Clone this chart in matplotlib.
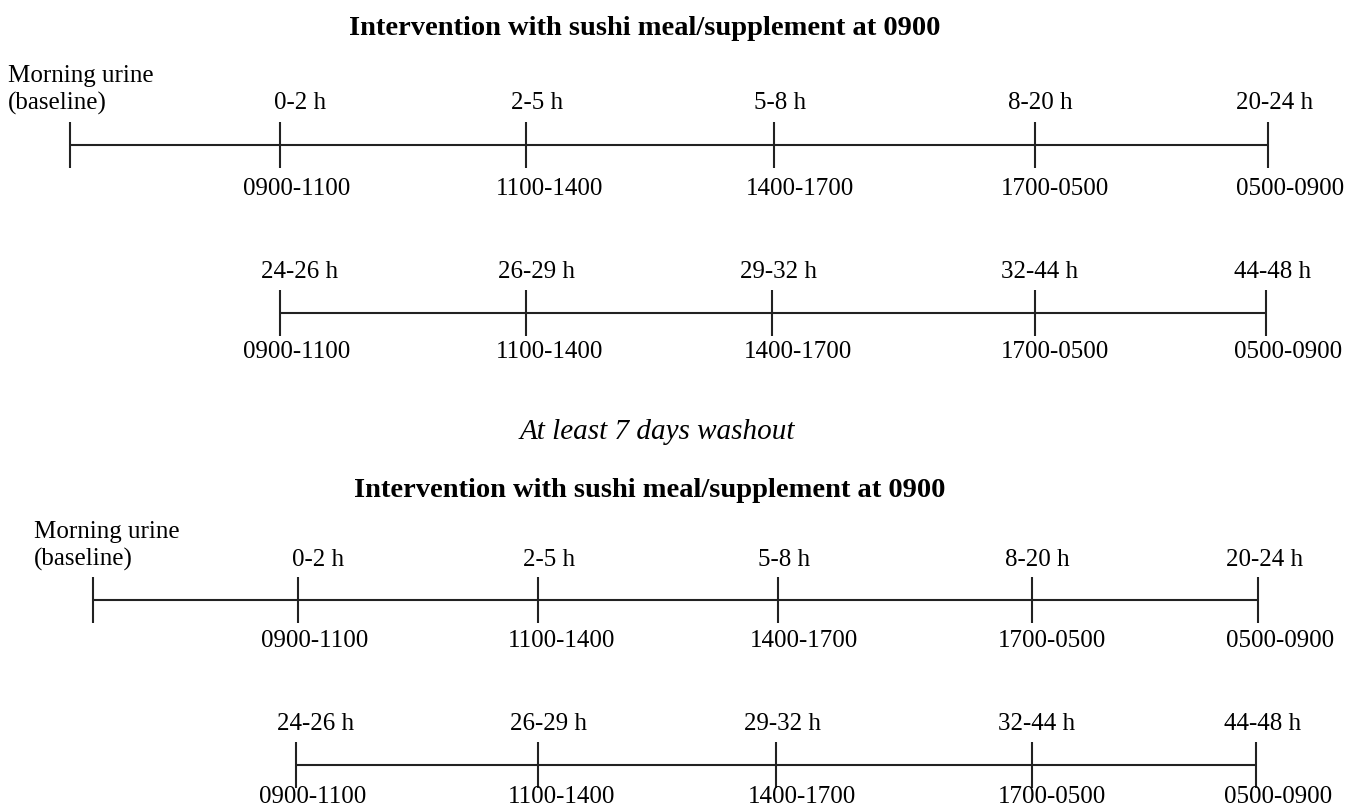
import matplotlib
matplotlib.use("Agg")
import matplotlib.pyplot as plt

plt.rcParams['font.family'] = ['Liberation Serif', 'DejaVu Serif']

# --- texts ---
title = "Intervention with sushi meal/supplement at 0900"
washout = "At least 7 days washout"
baseline_lbl = "Morning urine\n(baseline)"
day1_hours = ["0-2 h", "2-5 h", "5-8 h", "8-20 h", "20-24 h"]
day2_hours = ["24-26 h", "26-29 h", "29-32 h", "32-44 h", "44-48 h"]
clock = ["0900-1100", "1100-1400", "1400-1700", "1700-0500", "0500-0900"]

# --- layout (pixel units, y downwards) ---
LC = '#222222'
FS = 18
W, H = 1346, 809

fig = plt.figure(figsize=(W / 100, H / 100), dpi=100)
ax = fig.add_axes([0, 0, 1, 1])
ax.set_xlim(0, W)
ax.set_ylim(H, 0)
ax.axis('off')


def timeline(y, xs, top_labels, bottom_labels, x0=None, tick=23, top_dy=-40, bot_dy=45,
             top_off=None, bot_off=None):
    start = x0 if x0 is not None else xs[0]
    ax.hlines(y, start, xs[-1], color=LC, lw=1.5)
    all_x = ([x0] if x0 is not None else []) + list(xs)
    ax.vlines(all_x, y - tick, y + tick, color=LC, lw=1.5)
    for i, (x, t, b) in enumerate(zip(xs, top_labels, bottom_labels)):
        ax.text(x + top_off[i], y + top_dy, t, ha='center', va='center', fontsize=FS)
        ax.text(x + bot_off[i], y + bot_dy, b, ha='center', va='center', fontsize=FS)


top_off = [20, 11, 6, 5, 7]
bot_off = [17, 24, 26, 20, 22]

# panel 1
ax.text(645, 28, title, ha='center', va='center', fontsize=20.5, fontweight='bold')
ax.text(8, 90, baseline_lbl, ha='left', va='center', fontsize=FS, linespacing=1.3)
timeline(145, [280, 526, 774, 1035, 1268], day1_hours, clock, x0=70,
         top_dy=-42, bot_dy=44, top_off=top_off, bot_off=bot_off)
timeline(313, [280, 526, 772, 1035, 1266], day2_hours, clock,
         top_dy=-41, bot_dy=39, top_off=top_off, bot_off=bot_off)

# washout
ax.text(657, 432, washout, ha='center', va='center', fontsize=21, style='italic')

# panel 2
ax.text(650, 490, title, ha='center', va='center', fontsize=20.5, fontweight='bold')
ax.text(34, 546, baseline_lbl, ha='left', va='center', fontsize=FS, linespacing=1.3)
timeline(600, [298, 538, 778, 1032, 1258], day1_hours, clock, x0=93,
         top_dy=-40, bot_dy=41, top_off=top_off, bot_off=bot_off)
timeline(765, [296, 538, 776, 1032, 1256], day2_hours, clock,
         top_dy=-41, bot_dy=32, top_off=top_off, bot_off=bot_off)

fig.savefig("out.png", dpi=100, facecolor='white')
